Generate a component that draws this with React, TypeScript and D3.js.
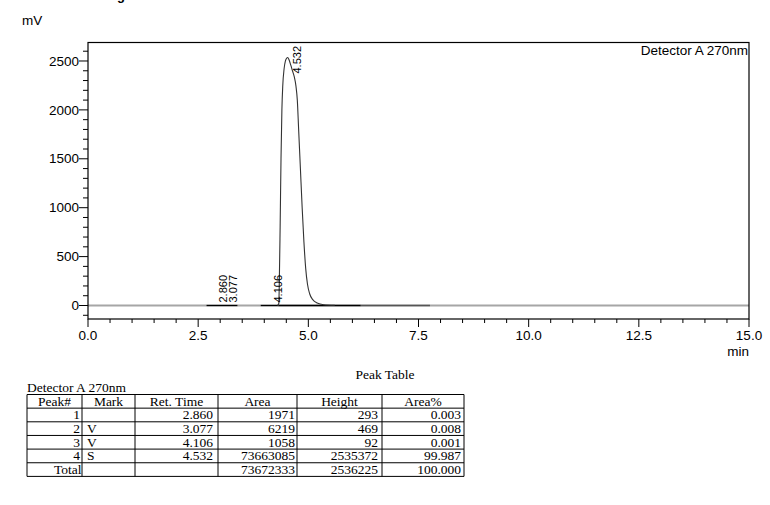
import React from "react";
import * as d3 from "d3";

// ---- data ----
const sigTime = [4.30, 4.33, 4.34, 4.36, 4.38, 4.40, 4.42, 4.45, 4.48, 4.51, 4.532, 4.56, 4.60, 4.64, 4.68, 4.72, 4.75, 4.78, 4.82, 4.86, 4.90, 4.94, 4.98, 5.03, 5.10, 5.20, 5.35, 5.60];
const sigValue = [0, 20, 200, 800, 1500, 2000, 2250, 2420, 2500, 2530, 2535, 2515, 2460, 2400, 2340, 2240, 2100, 1800, 1400, 1000, 650, 380, 220, 120, 60, 25, 8, 2];

const baseStart = [2.69, 3.92, 4.32, 6.19];
const baseEnd = [3.39, 4.32, 6.19, 7.76];
const baseDark = [true, true, true, false];

const peakNo = [1, 2, 3, 4];
const marks = ["", "V", "V", "S"];
const retTimes = [2.860, 3.077, 4.106, 4.532];
const areas = [1971, 6219, 1058, 73663085];
const heightsUV = [293, 469, 92, 2535372];
const areaPct = ["0.003", "0.008", "0.001", "99.987"];
const totalArea = 73672333;
const totalHeight = 2536225;
const totalPct = "100.000";

const xMajor = [0, 2.5, 5, 7.5, 10, 12.5, 15];
const yMajor = [0, 500, 1000, 1500, 2000, 2500];

const tableHeaders = ["Peak#", "Mark", "Ret. Time", "Area", "Height", "Area%"];

export default function App() {
  const left = 88, right = 749, top = 42.5, bottom = 319;
  const x = d3.scaleLinear().domain([0, 15]).range([left, right]);
  const y = d3.scaleLinear().domain([-138, 2689]).range([bottom, top]);

  const xMinor = d3.range(0, 15.001, 0.5).filter((v) => Math.abs(v / 2.5 - Math.round(v / 2.5)) > 1e-6);
  const yMinor = d3.range(-100, 2601, 100).filter((v) => v % 500 !== 0);

  const line = d3
    .line<number>()
    .x((_, i) => x(sigTime[i]))
    .y((d) => y(d))
    .curve(d3.curveMonotoneX);

  const sans = "Arial, 'Liberation Sans', sans-serif";
  const serif = "'Times New Roman', 'Liberation Serif', serif";

  // table geometry
  const colX = [27, 82, 135, 218, 297, 382, 464];
  const rowY = d3.range(7).map((i) => 394.5 + i * 13.65);
  const rowsData = peakNo.map((p, i) => [
    String(p),
    marks[i],
    retTimes[i].toFixed(3),
    String(areas[i]),
    String(heightsUV[i]),
    areaPct[i],
  ]);
  rowsData.push(["Total", "", "", String(totalArea), String(totalHeight), totalPct]);
  const rightPad = [2, 0, 5, 2, 4, 3];

  return (
    <svg
      width={770}
      height={505}
      style={{ position: "absolute", left: 0, top: 0, background: "#fff" }}
      xmlns="http://www.w3.org/2000/svg"
    >
      <rect x={0} y={0} width={770} height={505} fill="#fff" />
      <text x={48} y={0.3} fontFamily={sans} fontWeight="bold" fontSize={13}>
        {"<Chromatogram>"}
      </text>
      <text x={22} y={25} fontFamily={sans} fontSize={13.5}>mV</text>
      <text x={749} y={355.5} fontFamily={sans} fontSize={13.5} textAnchor="end">min</text>

      {/* zero line */}
      <line x1={left} x2={right} y1={y(0)} y2={y(0)} stroke="#a6a6a6" strokeWidth={2} />

      {/* peak baselines */}
      {baseStart.map((s, i) => (
        <line
          key={"b" + i}
          x1={x(s)}
          x2={x(baseEnd[i])}
          y1={y(0)}
          y2={y(0)}
          stroke={baseDark[i] ? "#000" : "#555"}
          strokeWidth={1.3}
        />
      ))}

      {/* chromatogram */}
      <path d={line(sigValue) || ""} fill="none" stroke="#333" strokeWidth={1.1} />

      {/* frame */}
      <rect x={left} y={top} width={right - left} height={bottom - top} fill="none" stroke="#000" strokeWidth={1.2} />

      {/* y ticks */}
      {yMajor.map((v) => (
        <g key={"ym" + v}>
          <line x1={left - 9} x2={left} y1={y(v)} y2={y(v)} stroke="#000" />
          <text x={left - 9} y={y(v) + 4.7} fontFamily={sans} fontSize={13.5} textAnchor="end">
            {v}
          </text>
        </g>
      ))}
      {yMinor.map((v) => (
        <line key={"yn" + v} x1={left - 5} x2={left} y1={y(v)} y2={y(v)} stroke="#000" />
      ))}

      {/* x ticks */}
      {xMajor.map((v) => (
        <g key={"xm" + v}>
          <line x1={x(v)} x2={x(v)} y1={bottom} y2={bottom + 8} stroke="#000" />
          <text x={x(v)} y={bottom + 21} fontFamily={sans} fontSize={13.5} textAnchor="middle">
            {v.toFixed(1)}
          </text>
        </g>
      ))}
      {xMinor.map((v) => (
        <line key={"xn" + v} x1={x(v)} x2={x(v)} y1={bottom} y2={bottom + 4} stroke="#000" />
      ))}

      <text x={748} y={54.5} fontFamily={sans} fontSize={13.5} textAnchor="end">
        Detector A 270nm
      </text>

      {/* peak labels */}
      {retTimes.map((t, i) => {
        const by = Math.min(y(heightsUV[i] / 1000) + 16, y(0) - 3);
        return (
          <text
            key={"pl" + i}
            transform={`translate(${x(t) + 13},${by}) rotate(-90)`}
            fontFamily={sans}
            fontSize={11}
          >
            {t.toFixed(3)}
          </text>
        );
      })}

      {/* peak table */}
      <text x={385} y={379} fontFamily={serif} fontSize={13.5} textAnchor="middle">Peak Table</text>
      <text x={27} y={392} fontFamily={serif} fontSize={13.5}>Detector A 270nm</text>
      {rowY.map((ry, i) => (
        <line key={"rl" + i} x1={colX[0]} x2={colX[6]} y1={ry} y2={ry} stroke="#000" strokeWidth={1} />
      ))}
      {colX.map((cx, i) => (
        <line key={"cl" + i} x1={cx} x2={cx} y1={rowY[0]} y2={rowY[6]} stroke="#000" strokeWidth={1} />
      ))}
      {tableHeaders.map((h, i) => (
        <text
          key={"th" + i}
          x={(colX[i] + colX[i + 1]) / 2}
          y={rowY[1] - 2.5}
          fontFamily={serif}
          fontSize={13.5}
          textAnchor="middle"
        >
          {h}
        </text>
      ))}
      {rowsData.map((row, r) =>
        row.map((cell, c) => {
          if (!cell) return null;
          const isMark = c === 1;
          const isTotal = r === 4 && c === 0;
          return (
            <text
              key={`c${r}-${c}`}
              x={isMark ? colX[1] + 5 : colX[c + 1] - (isTotal ? 0.5 : rightPad[c])}
              y={rowY[r + 2] - 2.5}
              fontFamily={serif}
              fontSize={13.5}
              textAnchor={isMark ? "start" : "end"}
            >
              {cell}
            </text>
          );
        })
      )}
    </svg>
  );
}
